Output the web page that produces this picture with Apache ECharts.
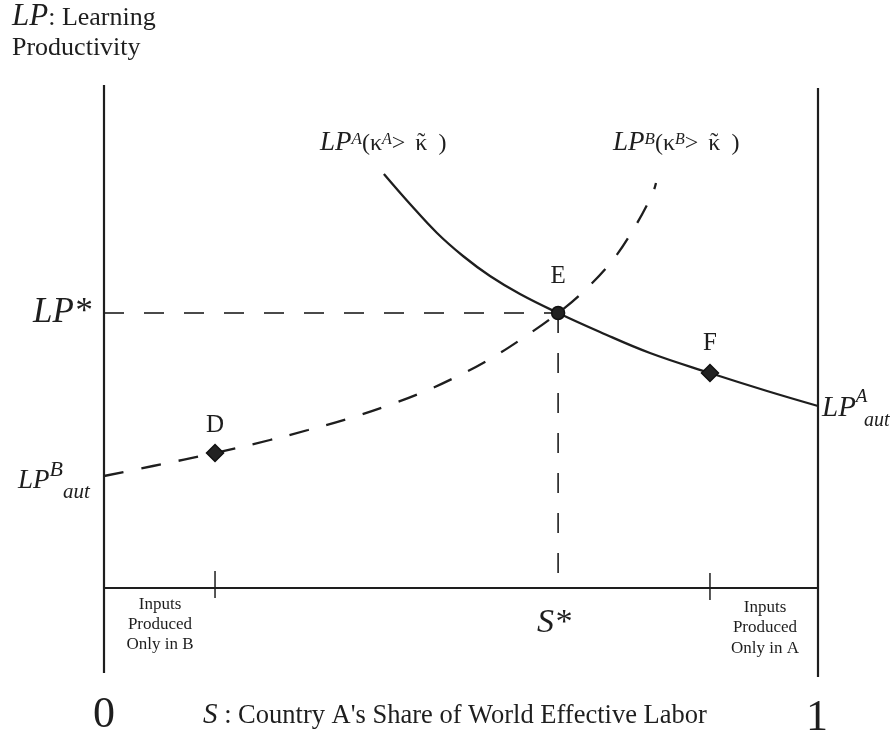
<!DOCTYPE html>
<html><head><meta charset="utf-8">
<script src="https://cdn.jsdelivr.net/npm/echarts@6/dist/echarts.min.js"></script>
<style>html,body{margin:0;padding:0;background:#fff}#c{width:896px;height:738px}</style>
</head><body><div id="c"></div>
<script>
// ---- data (S = share of world effective labor, LP = learning productivity, arbitrary units) ----
const curveA_S  = [0.392, 0.4286, 0.4664, 0.5028, 0.5406, 0.5826, 0.636, 0.6947, 0.7647, 0.8487, 0.9286, 1.0];
const curveA_LP = [82.8, 76.8, 71.0, 66.4, 62.4, 58.8, 55.0, 51.2, 47.0, 43.0, 39.4, 36.4];
const curveB_S  = [0, 0.0686, 0.1555, 0.2325, 0.2857, 0.3403, 0.3936, 0.4454, 0.4944, 0.5406, 0.5868, 0.636, 0.6737, 0.7115, 0.7409, 0.7675, 0.7731];
const curveB_LP = [22.4, 24.4, 27.0, 29.6, 31.6, 33.8, 36.3, 39.1, 42.3, 45.8, 50.0, 55.0, 59.6, 65.4, 71.6, 78.6, 81.0];
const pointNames = ['D', 'E', 'F'];
const pointS  = [0.1555, 0.636, 0.8487];
const pointLP = [27.0, 55.0, 43.0];
const sStar = 0.636, lpStar = 55.0;
const tickS = [0.1555, 0.8487];
const sMin = 0, sMax = 1;
const lpMin = -17.8, lpMax = 100.6;
const endLabels = ['0', '1'];

const INK = '#1e1e1e';
const SERIF = '"Liberation Serif","DejaVu Serif",serif';
const mctx = document.createElement('canvas').getContext('2d');
function fontOf(p){ return (p.it ? 'italic ' : '') + (p.size||20) + 'px ' + SERIF; }
function wOf(p){ mctx.font = fontOf(p); return mctx.measureText(p.t||'').width; }
// place text fragments on given baselines
function frag(parts, x, align){
  const w = parts.map(p => (p.gap !== undefined) ? p.gap : (p.over || p.dx !== undefined) ? 0 : wOf(p));
  const total = w.reduce((a,b)=>a+b,0);
  let cx = align === 'center' ? x - total/2 : (align === 'right' ? x - total : x);
  const els = [];
  let prevStart = cx, prevW = 0;
  parts.forEach((p,i) => {
    if (p.gap !== undefined) { cx += p.gap; return; }
    let px;
    if (p.dx !== undefined) px = x + p.dx;
    else if (p.over) px = prevStart + prevW/2 - wOf(p)/2;
    else { px = cx; prevStart = cx; prevW = w[i]; }
    els.push({type:'text', x: px, y: p.base - 0.3375*p.size, silent:true,
      style:{text:p.t, font:fontOf(p), fill:INK, textAlign:'left', textVerticalAlign:'middle'}});
    cx += w[i];
  });
  return els;
}
function curveLabel(sup, x){
  return frag([{t:'LP', size:27, it:true, base:152}, {t:sup, size:17, it:true, base:145},
    {t:'(', size:24, base:152}, {t:'\u03BA', size:24, base:152}, {t:sup, size:16, it:true, base:145},
    {t:'>', size:24, base:152}, {gap:10}, {t:'\u03BA', size:24, base:152},
    {t:'\u02DC', size:24, base:151, over:true}, {gap:11}, {t:')', size:24, base:152}], x, 'left');
}

const texts = [].concat(
  frag([{t:'LP', size:31, it:true, base:27}, {t:': Learning', size:26, base:27}], 12, 'left'),
  frag([{t:'Productivity', size:26, base:57}], 12, 'left'),
  curveLabel('A', 320),
  curveLabel('B', 613),
  frag([{t:'LP*', size:35, it:true, base:325}], 33, 'left'),
  frag([{t:'LP', size:27, it:true, base:490}, {t:'B', size:22, it:true, base:478},
        {t:'aut', size:21, it:true, base:500}], 18, 'left'),
  frag([{t:'LP', size:29, it:true, base:418}, {t:'A', size:19, it:true, base:403},
        {t:'aut', size:20, it:true, base:427, dx:42}], 822, 'left'),
  frag([{t:'S*', size:34, it:true, base:635}], 537, 'left'),
  frag([{t:'S', size:29, it:true, base:725}, {t:' : Country A\'s Share of World Effective Labor', size:26.5, base:725}], 203, 'left'),
  frag([{t:'Inputs', size:17, base:610}], 160, 'center'),
  frag([{t:'Produced', size:17, base:630}], 160, 'center'),
  frag([{t:'Only in B', size:17, base:650}], 160, 'center'),
  frag([{t:'Inputs', size:17, base:613}], 765, 'center'),
  frag([{t:'Produced', size:17, base:633}], 765, 'center'),
  frag([{t:'Only in A', size:17, base:654}], 765, 'center')
);

const chart = echarts.init(document.getElementById('c'), null, {renderer:'canvas'});
const zip = (xs, ys) => xs.map((x,i)=>[x, ys[i]]);
const seg = (data, w, type) => ({type:'line', data, symbol:'none', clip:false, silent:true, animation:false,
  lineStyle:{color:INK, width:w, type:type||'solid'}, z:2});
const labelDist = [6, 17, 8];
const symSize = [17, 13, 17];
const symShape = ['diamond', 'circle', 'diamond'];

chart.setOption({
  animation:false,
  grid:{left:104, right:78, top:85, bottom:61, containLabel:false},
  xAxis:{type:'value', min:sMin, max:sMax, show:false},
  yAxis:{type:'value', min:lpMin, max:lpMax, show:false},
  series:[
    seg([[sMin, -17], [sMin, lpMax]], 2.2),
    seg([[sMax, lpMin], [sMax, 100]], 2.2),
    seg([[sMin, 0], [sMax, 0]], 2.2),
    seg([[sMin, lpStar], [sStar, lpStar]], 1.6, [20,20]),
    seg([[sStar, lpStar], [sStar, 2.2]], 1.6, [20,20]),
    seg([[tickS[0], 3.4], [tickS[0], -2]], 1.5),
    seg([[tickS[1], 3.0], [tickS[1], -2.4]], 1.5),
    {type:'line', data:zip(curveA_S, curveA_LP), smooth:0.4, symbol:'none', clip:false,
     lineStyle:{color:INK, width:2.3}, z:3},
    {type:'line', data:zip(curveB_S, curveB_LP), smooth:0.4, symbol:'none', clip:false,
     lineStyle:{color:INK, width:2.3, type:[20,18]}, z:3},
    {type:'scatter', z:5, clip:false,
     data: pointNames.map((n,i)=>({name:n, value:[pointS[i], pointLP[i]], symbol:symShape[i], symbolSize:symSize[i],
       label:{show:true, position:'top', distance:labelDist[i], formatter:n, fontFamily:SERIF, fontSize:25, color:INK, opacity:1}})),
     itemStyle:{color:'#222', borderColor:'#111', borderWidth:1.5, opacity:1}}
  ],
  graphic: texts.concat(
    frag([{t:endLabels[0], size:44, base:730}], 104, 'center'),
    frag([{t:endLabels[1], size:44, base:733}], 817, 'center')
  )
});
</script></body></html>
